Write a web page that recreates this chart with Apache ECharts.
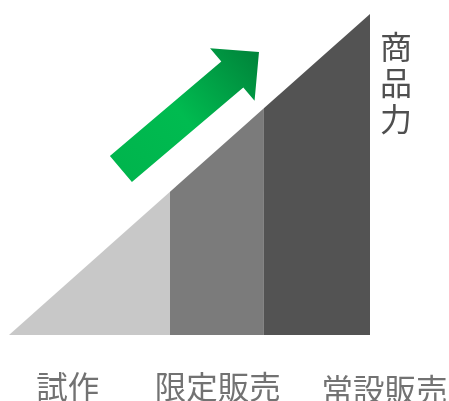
<!DOCTYPE html>
<html>
<head>
<meta charset="utf-8">
<script src="https://cdn.jsdelivr.net/npm/echarts@6/dist/echarts.min.js"></script>
<style>
html,body{margin:0;padding:0;background:#fff;}
#c{width:449px;height:401px;}
</style>
</head>
<body>
<div id="c"></div>
<script>
// Data
var stages = ['試作', '限定販売', '常設販売'];
var stageBounds = [0, 44.6, 70.6, 100];   // progress along the stages (x)
var power = [0, 44.6, 70.6, 100];         // 商品力 at each bound (y)
var axisTitle = '商品力';
var arrowFrom = [31.0, 51.7];
var arrowTo = [69.25, 88.2];

// Styles / layout
var stageColors = ['#c8c8c8', '#7b7b7b', '#535353'];
var labelPos = [[16.3, -16.3], [57.8, -16.3], [104.0, -17.2]];
var FONT = '"Noto Sans CJK JP", "Noto Sans CJK SC", sans-serif';

var chart = echarts.init(document.getElementById('c'), null, {renderer: 'canvas'});

var series = [];
for (var i = 0; i < stages.length; i++) {
  series.push({
    type: 'line',
    name: stages[i],
    data: [[stageBounds[i], power[i]], [stageBounds[i + 1], power[i + 1]]],
    symbol: 'none',
    lineStyle: {width: 0},
    areaStyle: {color: stageColors[i], opacity: 1},
    silent: true,
    z: 2
  });
}

series.push({
  type: 'scatter',
  clip: false,
  symbolSize: 0,
  silent: true,
  data: stages.map(function (s, i) { return {name: s, value: labelPos[i]}; }),
  label: {
    show: true,
    position: 'inside',
    formatter: '{b}',
    fontFamily: FONT,
    fontSize: 31.5,
    color: '#4f4f4f'
  }
});

series.push({
  type: 'custom',
  silent: true,
  clip: false,
  z: 5,
  data: [[arrowFrom[0], arrowFrom[1], arrowTo[0], arrowTo[1]]],
  renderItem: function (params, api) {
    var a = api.coord([api.value(0), api.value(1)]);
    var b = api.coord([api.value(2), api.value(3)]);
    var dx = b[0] - a[0], dy = b[1] - a[1];
    var len = Math.sqrt(dx * dx + dy * dy);
    var ux = dx / len, uy = dy / len;
    var px = -uy, py = ux;
    var shaftHalf = 17, headHalf = 34.4, headLen = 35;
    var m = [b[0] - ux * headLen, b[1] - uy * headLen];
    var pts = [
      [a[0] + px * shaftHalf, a[1] + py * shaftHalf],
      [m[0] + px * shaftHalf, m[1] + py * shaftHalf],
      [m[0] + px * headHalf, m[1] + py * headHalf],
      [b[0], b[1]],
      [m[0] - px * headHalf, m[1] - py * headHalf],
      [m[0] - px * shaftHalf, m[1] - py * shaftHalf],
      [a[0] - px * shaftHalf, a[1] - py * shaftHalf]
    ];
    return {
      type: 'polygon',
      shape: {points: pts},
      style: {
        fill: {
          type: 'linear',
          x: a[0], y: a[1], x2: b[0], y2: b[1],
          global: true,
          colorStops: [
            {offset: 0, color: '#00b54d'},
            {offset: 0.45, color: '#00bb50'},
            {offset: 1, color: '#00833a'}
          ]
        }
      }
    };
  }
});

chart.setOption({
  animation: false,
  backgroundColor: '#ffffff',
  title: {
    text: axisTitle.split('').join('\n'),
    left: 380,
    top: 29,
    padding: 0,
    textStyle: {
      fontFamily: FONT,
      fontSize: 32,
      fontWeight: 'normal',
      lineHeight: 36,
      color: '#4f4f4f'
    }
  },
  grid: {left: 9, right: 79, top: 14, bottom: 66, containLabel: false},
  xAxis: {type: 'value', min: 0, max: 100, show: false},
  yAxis: {type: 'value', min: 0, max: 100, show: false},
  series: series
});
</script>
</body>
</html>
